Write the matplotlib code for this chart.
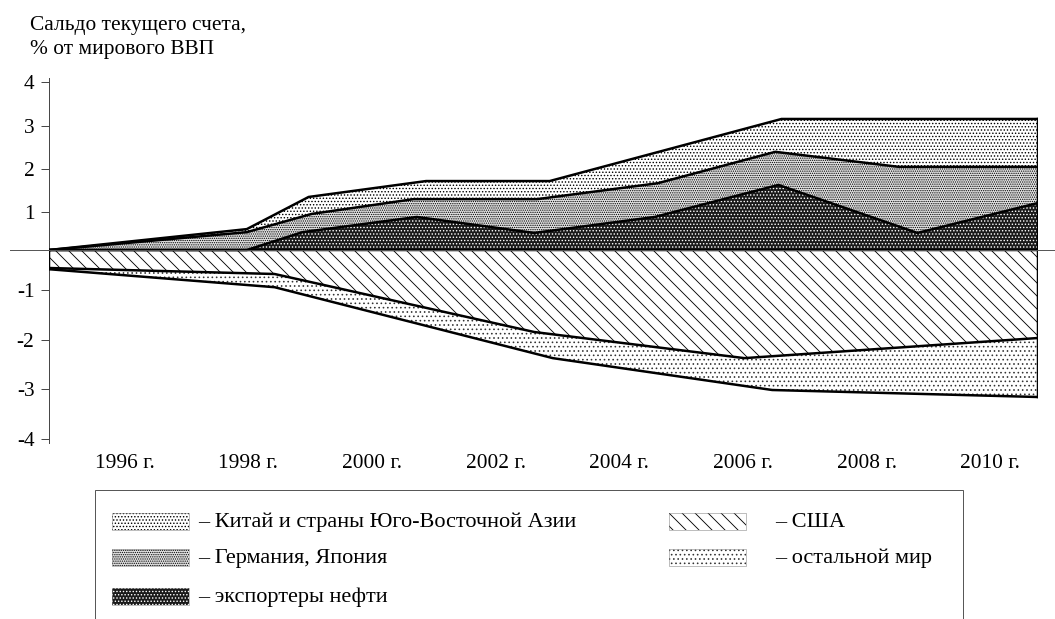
import numpy as np
import matplotlib
matplotlib.use("Agg")
import matplotlib.pyplot as plt
from matplotlib.patches import Rectangle
from matplotlib.lines import Line2D
from matplotlib import transforms as mtrans

# ---------------- data ----------------
# stacked boundaries, % of world GDP
china_top_x = [1995.0, 1998.2, 1999.2, 2001.1, 2003.1, 2006.85, 2011.0]
china_top_y = [0.0, 0.55, 1.35, 1.72, 1.72, 3.16, 3.16]

germany_top_x = [1995.0, 1998.2, 1999.25, 2000.9, 2002.9, 2004.85, 2006.75, 2008.75, 2011.0]
germany_top_y = [0.0, 0.47, 0.95, 1.30, 1.30, 1.67, 2.40, 2.05, 2.05]

oil_top_x = [1995.0, 1998.2, 1999.1, 2000.95, 2002.85, 2004.8, 2006.8, 2009.05, 2011.0]
oil_top_y = [0.0, 0.0, 0.47, 0.87, 0.45, 0.87, 1.63, 0.45, 1.21]

usa_bottom_x = [1995.0, 1998.65, 2002.85, 2006.25, 2011.0]
usa_bottom_y = [-0.45, -0.60, -1.84, -2.37, -1.96]

world_bottom_x = [1995.0, 1998.65, 2003.15, 2006.7, 2011.0]
world_bottom_y = [-0.48, -0.93, -2.37, -3.02, -3.16]

label_years = [1996, 1998, 2000, 2002, 2004, 2006, 2008, 2010]
year_labels = [f"{y} г." for y in label_years]
y_ticks = [-4, -3, -2, -1, 0, 1, 2, 3, 4]
y_tick_labels = ["-4", "-3", "-2", "-1", "", "1", "2", "3", "4"]

legend_names = ["Китай и страны Юго-Восточной Азии", "Германия, Япония",
                "экспортеры нефти", "США", "остальной мир"]
title_lines = ["Сальдо текущего счета,", "% от мирового ВВП"]

# ---------------- styles ----------------
STY = {
    "china":   dict(facecolor="white",   edgecolor="black", hatch="...."),
    "germany": dict(facecolor="#e2e2e2", edgecolor="black", hatch="......"),
    "oil":     dict(facecolor="#1a1a1a", edgecolor="white", hatch="...."),
    "usa":     dict(facecolor="white",   edgecolor="black", hatch="\\\\"),
    "world":   dict(facecolor="white",   edgecolor="#333333", hatch="..."),
}

plt.rcParams['font.family'] = ['Liberation Serif', 'DejaVu Serif']
plt.rcParams['hatch.linewidth'] = 0.8
FS = 19.7
FS_LEG = 20.5

W, H, DPI = 1055, 619, 78
fig = plt.figure(figsize=(W / DPI, H / DPI), dpi=DPI)


def fx(px):
    return px / W


def fy(py):
    return 1 - py / H


ax = fig.add_axes([fx(49), fy(443), fx(1038) - fx(49), fy(78.5) - fy(443)])

# the original's vertical axis is drawn with slightly uneven tick spacing
gauge_v = np.array([-5, -4, -3, -2, -1, 0, 1, 2, 3, 4, 5], float)
gauge_p = 250 - np.array([489, 439, 389, 340, 290, 250, 212, 169, 126, 82, 38], float)


def fwd(v):
    return np.interp(np.asarray(v, float), gauge_v, gauge_p)


def inv(p):
    return np.interp(np.asarray(p, float), gauge_p, gauge_v)


ax.set_yscale('function', functions=(fwd, inv))
ax.set_xlim(1995, 2011)
ax.set_ylim(-4.08, 4.08)
x0, x1 = ax.get_xlim()


def band(ux, uy, lx, ly, key):
    px = np.concatenate([np.asarray(ux), np.asarray(lx)[::-1]])
    py = np.concatenate([np.asarray(uy), np.asarray(ly)[::-1]])
    ax.fill(px, py, linewidth=0, zorder=2, **STY[key])


band(oil_top_x, oil_top_y, [x0, x1], [0, 0], "oil")
band(germany_top_x, germany_top_y, oil_top_x, oil_top_y, "germany")
band(china_top_x, china_top_y, germany_top_x, germany_top_y, "china")
band([x0, x1], [0, 0], usa_bottom_x, usa_bottom_y, "usa")
band(usa_bottom_x, usa_bottom_y, world_bottom_x, world_bottom_y, "world")

# thin zero line across the whole figure
zt = mtrans.blended_transform_factory(fig.transFigure, ax.transData)
fig.add_artist(Line2D([fx(10), 1.0], [0, 0], transform=zt, color="#555555", lw=0.9, zorder=1))

LW = 2.3
for xs, ys in [(china_top_x, china_top_y), (germany_top_x, germany_top_y),
               (oil_top_x, oil_top_y), (usa_bottom_x, usa_bottom_y),
               (world_bottom_x, world_bottom_y)]:
    ax.plot(xs, ys, color="black", lw=LW, zorder=4, solid_joinstyle="miter")
ax.plot([x0, x1], [0, 0], color="black", lw=LW, zorder=4)
ax.plot([x1, x1], [world_bottom_y[-1], china_top_y[-1]], color="black", lw=LW, zorder=4)
ax.plot([x0, x0], [world_bottom_y[0], 0], color="black", lw=LW, zorder=4)

for s in ["top", "right", "bottom"]:
    ax.spines[s].set_visible(False)
ax.spines["left"].set_color("#444444")
ax.spines["left"].set_linewidth(0.9)
ax.set_xticks([])
ax.set_yticks(y_ticks)
ax.set_yticklabels(y_tick_labels)
ax.yaxis.set_minor_locator(matplotlib.ticker.NullLocator())
ax.tick_params(axis="y", direction="out", length=7.5, width=0.9, color="#444444",
               pad=6, labelsize=FS)
ax.set_facecolor("none")

lab_tr = ax.get_xaxis_transform() + mtrans.ScaledTranslation(14 / DPI, -(468 - 443) / DPI,
                                                              fig.dpi_scale_trans)
for yr, lab in zip(label_years, year_labels):
    ax.text(yr, 0, lab, transform=lab_tr, ha="center", va="baseline", fontsize=FS)

fig.text(fx(30), fy(30), title_lines[0], ha="left", va="baseline", fontsize=FS)
fig.text(fx(30), fy(54), title_lines[1], ha="left", va="baseline", fontsize=FS)

# ---------------- legend box ----------------
fig.add_artist(Rectangle((fx(95), fy(660)), fx(963) - fx(95), fy(490) - fy(660),
                         transform=fig.transFigure, fill=False, edgecolor="#555555", lw=0.9))
keys = ["china", "germany", "oil", "usa", "world"]
slots = [(112, 521), (112, 557), (112, 596), (669, 521), (669, 557)]
for key, name, (px, cy) in zip(keys, legend_names, slots):
    fig.add_artist(Rectangle((fx(px), fy(cy + 8.5)), fx(px + 77) - fx(px), 17 / H,
                             transform=fig.transFigure, linewidth=0, **STY[key]))
    fig.add_artist(Rectangle((fx(px), fy(cy + 8.5)), fx(px + 77) - fx(px), 17 / H,
                             transform=fig.transFigure, fill=False, edgecolor="#888888", lw=0.5))
    tx = 198 if px < 400 else 775
    fig.text(fx(tx), fy(cy + 6), "– " + name, ha="left", va="baseline", fontsize=FS_LEG)

fig.savefig("out.png", dpi=DPI)
